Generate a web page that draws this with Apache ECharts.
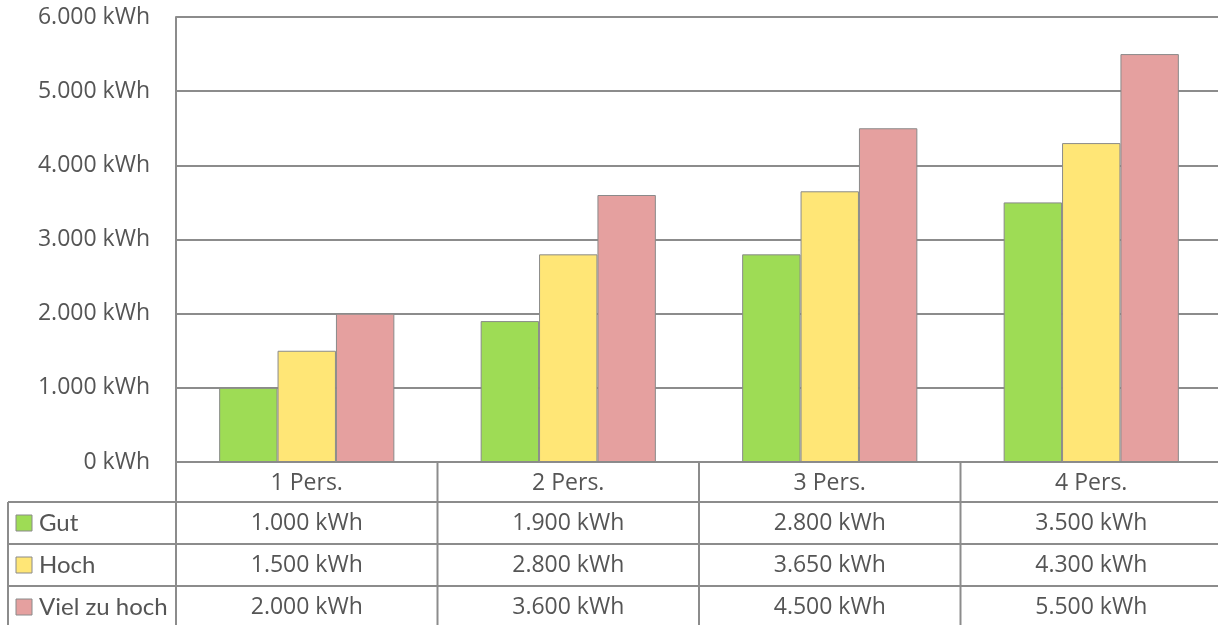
<!DOCTYPE html>
<html><head><meta charset="utf-8">
<script src="https://cdn.jsdelivr.net/npm/echarts@6/dist/echarts.min.js"></script>
<style>html,body{margin:0;padding:0;background:#fff;overflow:hidden;width:1218px;height:625px}#c{width:1222px;height:625px}</style>
</head><body><div id="c"></div>
<script>
// ---- data ----
const categories = ['1 Pers.', '2 Pers.', '3 Pers.', '4 Pers.'];
const seriesNames = ['Gut', 'Hoch', 'Viel zu hoch'];
const gut = [1000, 1900, 2800, 3500];
const hoch = [1500, 2800, 3650, 4300];
const vielZuHoch = [2000, 3600, 4500, 5500];
const yMin = 0, yMax = 6000, yStep = 1000;
const unit = ' kWh';

// ---- styles ----
const colors = ['#9edc55', '#ffe676', '#e5a09f'];
const gridGray = '#8c8c8c';
const textColor = '#555555';
const numFont = '"Open Sans", sans-serif';
const nameFont = 'Lato, sans-serif';

function fmt(v) {
  const s = String(Math.round(v));
  return s.replace(/\B(?=(\d{3})+(?!\d))/g, '.') + unit;
}

const seriesValues = [gut, hoch, vielZuHoch];
const chart = echarts.init(document.getElementById('c'), null, {renderer: 'canvas'});

const option = {
  animation: false,
  backgroundColor: '#fff',
  grid: {left: 176, right: 0, top: 17, bottom: 163, containLabel: false},
  xAxis: {
    type: 'category', data: categories,
    axisLine: {show: true, lineStyle: {color: gridGray, width: 2}},
    axisTick: {show: false},
    axisLabel: {show: false}
  },
  yAxis: {
    type: 'value', min: yMin, max: yMax, interval: yStep,
    axisLine: {show: true, lineStyle: {color: gridGray, width: 2}},
    axisTick: {show: false},
    splitLine: {show: true, lineStyle: {color: gridGray, width: 2}},
    axisLabel: {
      formatter: fmt, color: textColor, fontFamily: numFont, fontSize: 23, margin: 26
    }
  },
  series: seriesValues.map((vals, i) => ({
    name: seriesNames[i], type: 'bar', data: vals,
    barGap: '0%', barCategoryGap: '33%',
    itemStyle: {color: colors[i], borderColor: '#8a8a8a', borderWidth: 1}
  }))
};
chart.setOption(option);

// ---- data table below the plot ----
const c0 = chart.convertToPixel({xAxisIndex: 0}, 0);
const c1 = chart.convertToPixel({xAxisIndex: 0}, 1);
const bw = c1 - c0;
const y0 = chart.convertToPixel({yAxisIndex: 0}, 0);
const headerH = 40, rowH = 42;
const tableLeft = 8, bottomY = 640, rightX = 1240;
const g = [];
const line = (x1, y1, x2, y2) => g.push({
  type: 'line', silent: true,
  shape: {x1, y1, x2, y2},
  style: {stroke: gridGray, lineWidth: 2}
});
for (let i = 0; i <= categories.length; i++) {
  const x = c0 - bw / 2 + i * bw;
  line(x, y0, x, bottomY);
}
line(tableLeft, y0 + headerH, tableLeft, bottomY);
for (let r = 0; r < seriesNames.length; r++) {
  const y = y0 + headerH + r * rowH;
  line(tableLeft, y, rightX, y);
}
categories.forEach((cat, i) => {
  const x = chart.convertToPixel({xAxisIndex: 0}, i);
  g.push({type: 'text', silent: true, x: x, y: y0 + headerH / 2 + 1,
    style: {text: cat, fill: textColor, font: '23px ' + numFont, align: 'center', verticalAlign: 'middle'}});
});
seriesValues.forEach((vals, r) => {
  const yc = y0 + headerH + r * rowH + rowH / 2;
  g.push({type: 'rect', silent: true, shape: {x: 16, y: yc - 8, width: 16, height: 16},
    style: {fill: colors[r], stroke: '#8a8a8a', lineWidth: 1}});
  g.push({type: 'text', silent: true, x: 39, y: yc,
    style: {text: seriesNames[r], fill: textColor, font: '24px ' + nameFont, align: 'left', verticalAlign: 'middle'}});
  vals.forEach((v, i) => {
    const x = chart.convertToPixel({xAxisIndex: 0}, i);
    g.push({type: 'text', silent: true, x: x, y: yc,
      style: {text: fmt(v), fill: textColor, font: '23px ' + numFont, align: 'center', verticalAlign: 'middle'}});
  });
});
chart.setOption({graphic: {elements: g}});
</script>
</body></html>
